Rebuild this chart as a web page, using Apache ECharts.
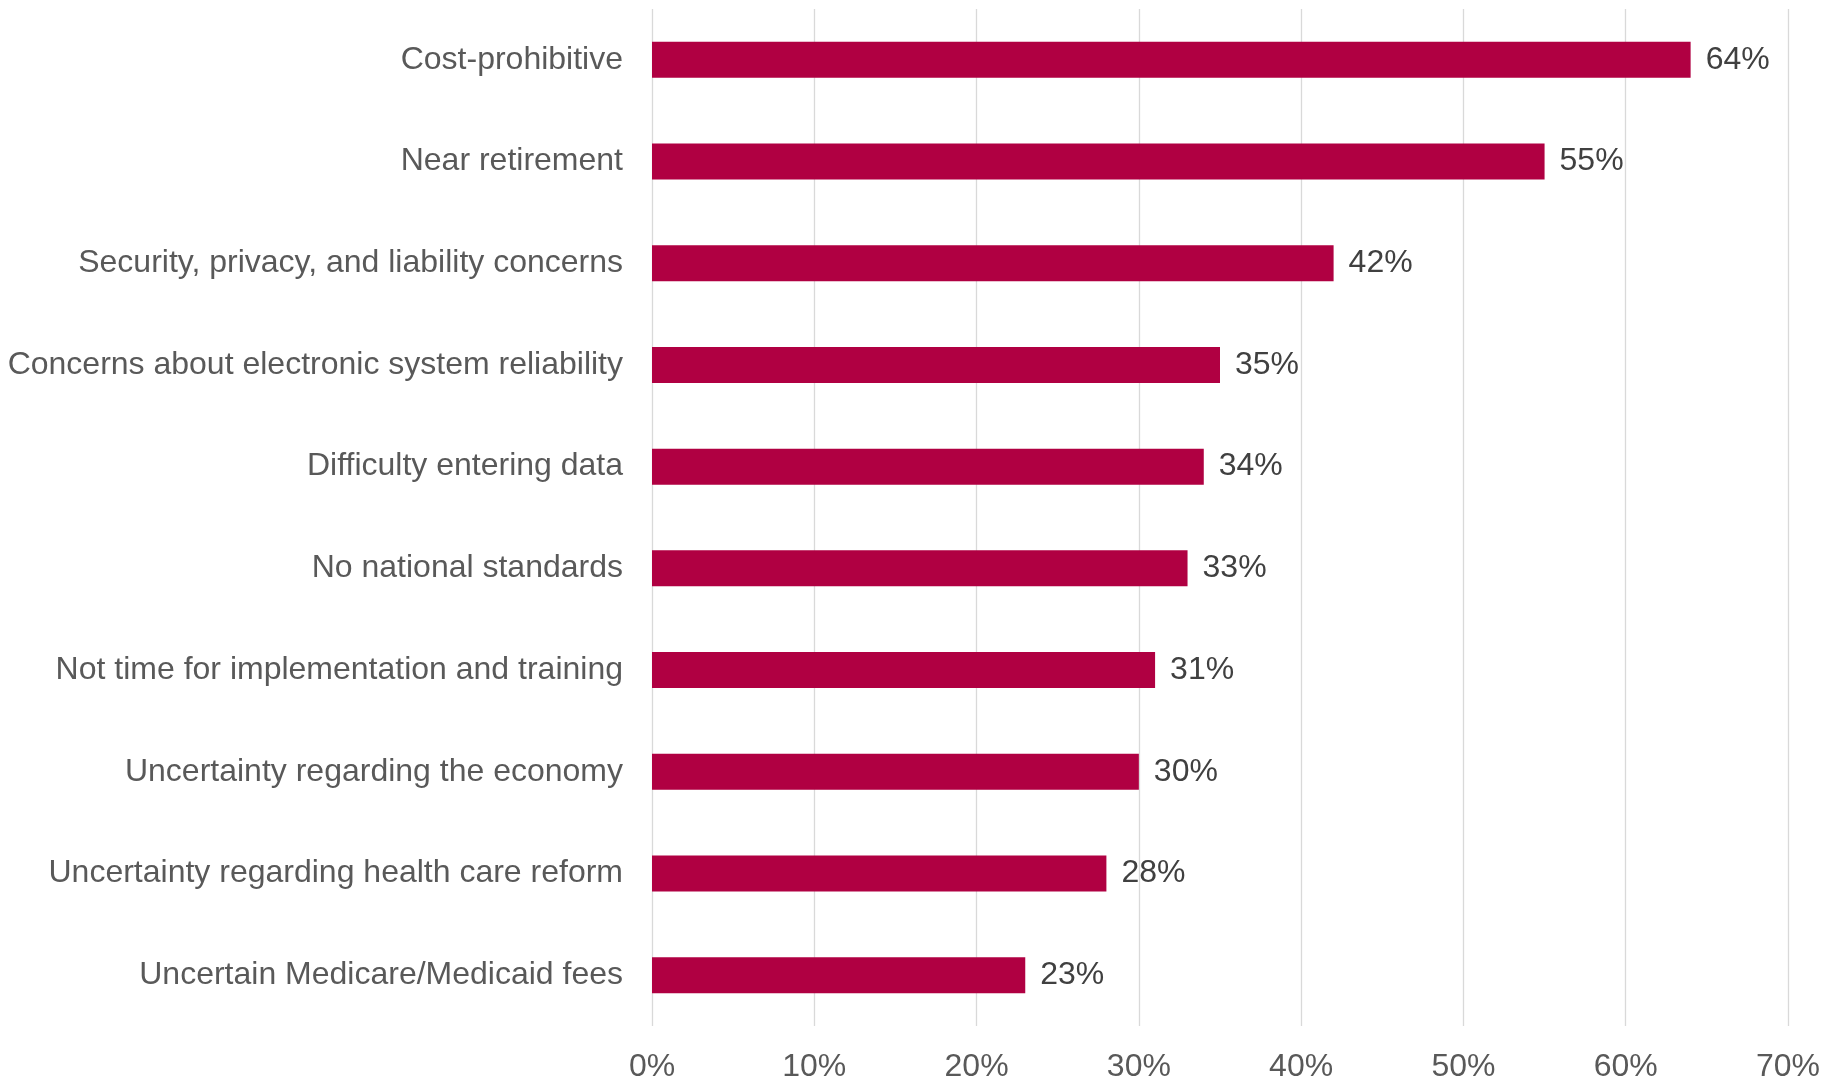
<!DOCTYPE html>
<html>
<head>
<meta charset="utf-8">
<style>
  html, body { margin: 0; padding: 0; background: #ffffff; }
  #chart { width: 1837px; height: 1078px; }
</style>
<script src="https://cdn.jsdelivr.net/npm/echarts@6/dist/echarts.min.js"></script>
</head>
<body>
<div id="chart"></div>
<script>
// Reasons given for not adopting electronic records (share of respondents)
const categories = [
  'Cost-prohibitive',
  'Near retirement',
  'Security, privacy, and liability concerns',
  'Concerns about electronic system reliability',
  'Difficulty entering data',
  'No national standards',
  'Not time for implementation and training',
  'Uncertainty regarding the economy',
  'Uncertainty regarding health care reform',
  'Uncertain Medicare/Medicaid fees'
];
const shares = [64, 55, 42, 35, 34, 33, 31, 30, 28, 23];
const axisTicks = [0, 10, 20, 30, 40, 50, 60, 70];

const fontFamily = '"Liberation Sans", Arial, sans-serif';
const chart = echarts.init(document.getElementById('chart'), null, { renderer: 'canvas' });

chart.setOption({
  backgroundColor: '#ffffff',
  animation: false,
  grid: {
    left: 652, right: 49, top: 9, bottom: 52,
    containLabel: false,
    outerBoundsMode: 'none'
  },
  xAxis: {
    type: 'value',
    min: axisTicks[0],
    max: axisTicks[axisTicks.length - 1],
    interval: 10,
    axisLine: { show: false },
    axisTick: { show: false },
    splitLine: { show: true, lineStyle: { color: '#d9d9d9', width: 1.3 } },
    axisLabel: {
      formatter: v => v + '%',
      color: '#595959',
      fontSize: 32,
      fontFamily: fontFamily,
      margin: 25
    }
  },
  yAxis: {
    type: 'category',
    data: categories,
    inverse: true,
    axisLine: { show: false },
    axisTick: { show: false },
    splitLine: { show: false },
    axisLabel: {
      color: '#595959',
      fontSize: 32,
      fontFamily: fontFamily,
      margin: 29,
      padding: [4, 0, 0, 0]
    }
  },
  series: [{
    type: 'bar',
    data: shares,
    barWidth: 36,
    itemStyle: { color: '#b00042' },
    label: {
      show: true,
      position: 'right',
      distance: 15,
      padding: [9, 0, 0, 0],
      formatter: p => p.value + '%',
      color: '#404040',
      fontSize: 32,
      fontFamily: fontFamily
    }
  }]
});
</script>
</body>
</html>
